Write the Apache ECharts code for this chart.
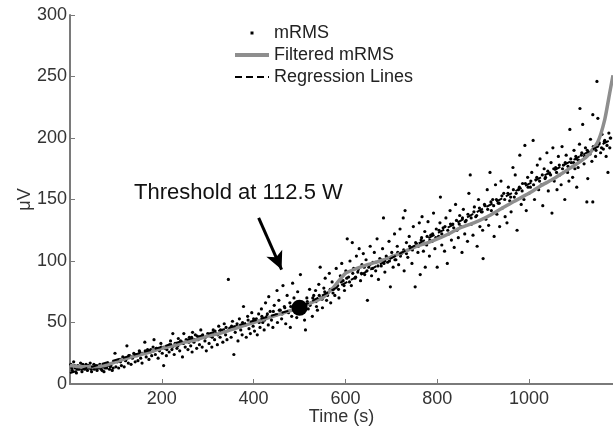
<!DOCTYPE html>
<html>
<head>
<meta charset="utf-8">
<title></title>
<style>
  html, body { margin: 0; padding: 0; background: #fff; }
  #div { width: 613px; height: 431px; }
</style>
</head>
<body>
<div id="div"></div>
<script src="https://cdn.jsdelivr.net/npm/echarts@6/dist/echarts.min.js"></script>
<script>
// mRMS samples [time s, uV]
var mrms = [
  [2,16],[5,11],[8,18],[11,13],[14,9],[17,15],[20,12],[23,17],[26,10],[29,14],[32,12],[35,16],[38,11],[41,13],[44,17],[47,10],
  [50,14],[53,12],[56,15],[59,11],[62,13],[65,16],[68,12],[71,14],[74,10],[77,15],[80,13],[83,17],[86,12],[89,15],[92,11],[95,18],[98,25],[100,14],
  [103,18],[106,13],[109,20],[112,15],[115,22],[118,14],[121,19],[124,31],[127,17],[130,23],[133,16],[136,21],[139,25],[142,18],[145,24],[148,19],
  [151,27],[154,21],[157,17],[160,25],[163,34],[166,22],[169,28],[172,20],[175,26],[178,23],[181,30],[183,36],[186,24],[189,29],[192,21],[195,27],
  [198,33],[201,25],[204,15],[207,29],
  [210,23],[213,31],[216,26],[219,35],[222,28],[224,41],[227,24],[230,32],[233,29],[236,37],[239,27],[242,33],[245,22],[248,41],[251,30],[254,35],
  [257,28],[260,38],[263,31],[266,26],[267,42],[270,34],[273,40],[276,29],[279,36],[282,32],[285,44],[288,30],[291,38],[294,35],[297,27],[300,41],
  [303,33],[306,39],[309,30],[312,44],[315,36],[318,41],[321,32],[324,47],[327,38],[330,43],[333,34],[336,49],[339,40],[342,36],[345,85],[348,45],
  [351,38],[354,51],[357,24],[360,42],[363,47],[366,35],[369,53],[372,44],[375,40],[378,63],[381,48],[384,38],[387,55],[390,45],[393,41],[396,58],
  [399,47],[402,43],
  [405,52],[408,40],[411,57],[414,46],[417,61],[420,50],[423,44],[426,66],[429,55],[432,48],[433,71],[436,59],[439,52],[442,46],[445,64],[448,56],
  [451,76],[452,50],[455,68],[458,60],[461,53],[464,80],[467,63],[470,49],[473,72],[476,58],[479,66],[480,46],[483,55],[485,82],[488,70],[491,62],
  [494,54],[496,75],[499,67],[502,89],[505,58],
  [508,64],[511,52],[513,44],[516,70],[519,61],[522,77],[525,66],[528,55],[531,72],[535,76],[537,63],[539,60],[542,81],[545,95],[547,70],[550,62],
  [553,78],[556,86],[559,68],[562,74],[565,90],[568,66],[571,83],[574,77],[577,72],[580,94],[583,80],[586,70],[589,88],[592,98],[595,84],[598,76],
  [601,92],[604,118],[607,87],[610,100],[613,80],[615,115],
  [618,94],[621,86],[624,104],[627,91],[630,110],[633,84],[636,97],[639,106],[642,89],[645,101],[648,68],[651,95],[654,112],[657,88],[660,99],
  [663,107],[666,92],[669,118],[672,85],[675,102],[678,96],[681,110],[683,135],[686,91],[689,104],[692,99],[695,116],[698,79],[701,107],[704,95],[707,122],
  [710,101],[713,112],[716,97],[719,126],[722,106],[726,135],[728,92],[730,141],[733,115],[736,103],[739,120],[742,110],[745,98],[748,128],[752,79],
  [755,114],[758,107],[761,131],[763,89],[766,119],[767,136],[770,108],[773,124],[774,95],[777,113],[780,132],[783,104],[786,121],[789,116],[792,139],
  [795,110],[798,126],[800,95],
  [803,120],[806,131],[807,152],[810,113],[813,127],[816,108],[819,135],[822,98],[825,122],[828,141],[831,117],[834,130],[837,111],[840,146],[843,125],
  [846,119],[849,137],[852,128],[854,107],[857,142],[860,122],[863,133],[866,116],[869,155],[872,170],[875,130],[878,121],[881,144],[884,136],[887,112],
  [890,150],[893,128],[896,140],[899,125],[900,102],
  [903,146],[906,134],[909,158],[912,129],[915,172],[918,141],[921,150],[924,120],[927,162],[930,138],[933,147],[936,128],[939,165],[942,143],[945,155],
  [948,136],[952,131],[955,160],[958,149],[961,140],[965,176],[968,152],[970,170],[974,125],[977,158],[980,186],[983,146],[986,163],[989,150],[991,194],
  [994,141],[997,168],[1000,155],
  [1003,160],[1006,172],[1009,198],[1012,150],[1015,166],[1018,178],[1021,158],[1024,183],[1027,162],[1030,145],[1033,175],[1036,168],[1039,188],
  [1042,157],[1045,171],[1048,180],[1050,139],[1052,192],[1055,165],[1058,176],[1061,158],[1064,185],[1067,170],[1070,162],[1072,193],[1075,178],
  [1078,150],[1081,186],[1084,172],[1087,165],[1089,207],[1092,180],[1095,168],[1098,190],[1100,175],
  [1103,183],[1104,160],[1107,176],[1110,195],[1111,224],[1114,186],[1117,211],[1120,179],[1123,192],[1126,148],[1128,167],[1131,188],[1134,199],
  [1137,181],[1139,219],[1139,148],[1142,193],[1145,185],[1148,246],[1150,216],[1153,196],[1156,188],[1159,203],[1162,191],[1165,198],[1168,185],
  [1172,172],[1174,204],[1176,192],[1178,200],
  // dense core of the band
  [4,13],[10,15],[16,12],[22,14],[28,16],[34,13],[40,15],[46,12],[52,16],[58,13],[64,14],[70,11],[76,13],[82,15],[88,14],[94,13],
  [104,19],[110,18],[116,21],[122,20],[128,23],[134,22],[140,24],[146,23],[152,26],[158,25],[164,27],[170,26],[176,28],[182,27],[188,29],[194,28],[199,30],
  [205,30],[211,28],[217,32],[223,30],[229,33],[235,31],[241,35],[247,33],[253,36],[259,34],[265,38],[271,36],[277,39],[283,37],[289,40],[295,38],
  [304,40],[310,38],[316,43],[322,40],[328,44],[334,42],[340,46],[346,44],[352,47],[358,45],[364,49],[370,47],[376,50],[382,48],[388,52],[394,50],[400,53],
  [406,53],[412,50],[418,55],[424,52],[430,57],[437,54],[443,59],[449,56],[456,60],[462,57],[468,62],[474,59],[481,63],[487,60],[493,64],[498,61],
  [504,64],[510,61],[517,67],[523,64],[529,70],[536,67],[543,72],[549,69],[555,75],[561,72],[567,77],[573,74],[579,80],[585,77],[591,83],[597,80],
  [603,86],[609,83],[616,90],[622,87],[628,93],[635,90],[641,95],[647,92],[653,97],[659,94],[665,99],[671,96],[677,101],[684,98],[690,103],[696,100],
  [702,104],[708,101],[714,107],[720,104],[727,109],[733,106],[740,112],[746,109],[753,115],[759,112],[765,117],[771,114],[778,120],[784,117],[790,122],[797,119],
  [804,125],[810,122],[817,128],[823,125],[829,130],[836,127],[842,133],[848,130],[855,135],[861,132],[867,138],[874,135],[880,140],[886,137],[892,143],[898,140],
  [904,145],[910,142],[917,148],[923,145],[929,150],[935,147],[941,153],[947,150],[954,155],[960,152],[966,158],[972,155],[979,160],[985,157],[992,163],[998,160],
  [1004,165],[1010,162],[1017,168],[1023,165],[1029,170],[1035,167],[1041,173],[1047,170],[1054,175],[1060,172],[1066,178],[1073,175],[1079,180],[1085,177],
  [1091,183],[1097,180],
  [1102,185],[1108,182],[1115,188],[1121,185],[1127,190],[1133,187],[1140,193],[1146,190],[1152,195],[1158,192],[1164,197],[1170,194],[1177,200]
];

// filtered mRMS curve
var filtered = [
  [0,15],[25,14],[50,14],[75,15],[100,18],[125,21],[150,23.5],[175,26],[200,29],[225,31],[250,34],[275,36],[300,39],[325,41],[350,44],
  [375,47],[400,50],[425,53],[450,56],[475,59],[500,62],[525,66],[550,70],[575,79],[600,90],[625,94],[648,97],[675,100],[698,103],
  [725,107],[756,112],[780,115],[807,119],[830,123],[850,127],[880,131],[909,136],[937,142],[965,148],[1000,155],[1025,161],
  [1050,166],[1075,172],[1100,178],[1126,185],[1150,197],[1165,215],[1176,237],[1183,251]
];

// two regression lines meeting at the threshold
var regression = [[0,9],[500,62],[1180,199]];
var threshold = [[500,62]];
var arrowFrom = [411,135];
var arrowTo = [461,93];
var labelAt = [367,155];

var xMin = 0, xMax = 1183, xStep = 200;
var yMin = 0, yMax = 300, yStep = 50;

var font = 'Liberation Sans';
var axisGray = '#7a7a7a';
var noDot = { color: 'rgba(0,0,0,0)', borderWidth: 0 };

var chartDom = document.getElementById('div');
var myChart = echarts.init(chartDom);
var option;

option = {
  animation: false,
  grid: { left: 70, right: 0, top: 15, bottom: 47 },
  legend: {
    orient: 'vertical',
    left: 228,
    top: 19,
    itemWidth: 34,
    itemHeight: 14,
    itemGap: 4,
    textStyle: { fontFamily: font, fontSize: 18, color: '#222' },
    data: [
      { name: 'mRMS', icon: 'path://M0,0M14,0M14,14M0,14M5.5,5.5L8.5,5.5L8.5,8.5L5.5,8.5Z' },
      { name: 'Filtered mRMS', itemStyle: noDot, lineStyle: { color: '#8e8e8e', width: 4 } },
      { name: 'Regression Lines', itemStyle: noDot, lineStyle: { color: '#000', width: 2, type: [7, 4] } }
    ]
  },
  xAxis: {
    type: 'value',
    min: xMin,
    max: xMax,
    interval: xStep,
    name: 'Time (s)',
    nameLocation: 'middle',
    nameGap: 24,
    nameMoveOverlap: false,
    nameTextStyle: { fontFamily: font, fontSize: 18, color: '#333' },
    splitLine: { show: false },
    axisLine: { lineStyle: { color: axisGray, width: 2 } },
    axisTick: { inside: true, length: 5, lineStyle: { color: axisGray } },
    axisLabel: {
      showMinLabel: false, showMaxLabel: false, margin: 6,
      fontFamily: font, fontSize: 18, color: '#333',
      formatter: function (v) { return String(v); }
    }
  },
  yAxis: {
    type: 'value',
    min: yMin,
    max: yMax,
    interval: yStep,
    name: 'μV',
    nameLocation: 'middle',
    nameGap: 36,
    nameMoveOverlap: false,
    nameTextStyle: { fontFamily: font, fontSize: 18, color: '#333' },
    splitLine: { show: false },
    axisLine: { show: true, lineStyle: { color: axisGray, width: 2 } },
    axisTick: { show: true, inside: true, length: 5, lineStyle: { color: axisGray } },
    axisLabel: { margin: 3, fontFamily: font, fontSize: 18, color: '#333' }
  },
  series: [
    {
      name: 'mRMS',
      type: 'scatter',
      data: mrms,
      symbol: 'circle',
      symbolSize: 3.2,
      itemStyle: { color: '#000', opacity: 1 },
      z: 2
    },
    {
      name: 'Filtered mRMS',
      type: 'line',
      data: filtered,
      symbol: 'none',
      smooth: 0.2,
      lineStyle: { color: '#8e8e8e', width: 3.5 },
      itemStyle: { color: '#8e8e8e' },
      z: 3
    },
    {
      name: 'Regression Lines',
      type: 'line',
      data: regression,
      symbol: 'none',
      lineStyle: { color: '#000', width: 2, type: [7, 4] },
      itemStyle: { color: '#000' },
      z: 4
    },
    {
      name: 'Threshold',
      type: 'scatter',
      data: threshold,
      symbolSize: 16,
      itemStyle: { color: '#000', opacity: 1 },
      z: 5,
      markLine: {
        silent: true,
        symbol: ['none', 'arrow'],
        symbolSize: [13, 18],
        lineStyle: { color: '#000', width: 3, type: 'solid' },
        label: { show: false },
        data: [[{ coord: arrowFrom }, { coord: arrowTo }]]
      },
      markPoint: {
        silent: true,
        symbol: 'circle',
        symbolSize: 0,
        label: {
          show: true,
          formatter: 'Threshold at 112.5 W',
          fontFamily: font,
          fontSize: 22,
          color: '#111'
        },
        data: [{ coord: labelAt }]
      }
    }
  ]
};

option && myChart.setOption(option);
</script>
</body>
</html>
